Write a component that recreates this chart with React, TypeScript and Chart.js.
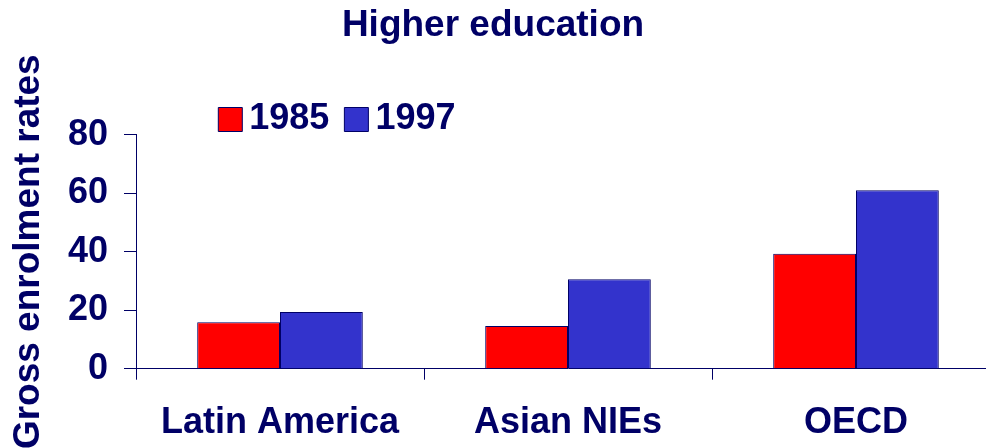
import React, { useEffect, useRef } from 'react';
import { Chart, registerables } from 'chart.js';

Chart.register(...registerables);

const categories = ['Latin America', 'Asian NIEs', 'OECD'];
const seriesLabels = ['1985', '1997'];
const values1985 = [15.9, 14.6, 39.3];
const values1997 = [19.4, 30.6, 61.0];
const yMin = 0;
const yMax = 80;
const yStep = 20;
const chartTitle = 'Higher education';
const yAxisTitle = 'Gross enrolment rates';

const NAVY = '#000066';
const RED = '#FF0000';
const BLUE = '#3333CC';
const FAMILY = "'Liberation Sans', Arial, sans-serif";

const placementPlugin = {
  id: 'placementPlugin',
  afterLayout(chart: any) {
    const t = chart.titleBlock;
    if (t) {
      t.left = 0;
      t.right = 986;
      t.width = 986;
    }
    const l = chart.legend;
    if (l) {
      const w = l.width;
      l.left = 203.3;
      l.right = 203.3 + w;
    }
  },
};

export default function App() {
  const ref = useRef<HTMLCanvasElement | null>(null);

  useEffect(() => {
    if (!ref.current) return;
    const chart = new Chart(ref.current, {
      type: 'bar',
      data: {
        labels: categories,
        datasets: [
          {
            label: seriesLabels[0],
            data: values1985,
            backgroundColor: RED,
            borderColor: NAVY,
            borderWidth: 1,
            categoryPercentage: 0.575,
            barPercentage: 1,
          },
          {
            label: seriesLabels[1],
            data: values1997,
            backgroundColor: BLUE,
            borderColor: NAVY,
            borderWidth: 1,
            categoryPercentage: 0.575,
            barPercentage: 1,
          },
        ],
      },
      options: {
        responsive: false,
        animation: false,
        layout: { padding: 0 },
        plugins: {
          title: {
            display: true,
            text: chartTitle,
            color: NAVY,
            font: { family: FAMILY, size: 37, weight: 'bold' },
            padding: { top: 3.3, bottom: 27.8 },
          },
          legend: {
            display: true,
            position: 'top',
            align: 'start',
            maxHeight: 59.2,
            labels: {
              usePointStyle: true,
              pointStyle: 'rect',
              boxWidth: 2,
              boxHeight: 24,
              padding: 26,
              color: NAVY,
              font: { family: FAMILY, size: 36, weight: 'bold' },
            },
          },
          tooltip: { enabled: false },
        },
        scales: {
          x: {
            grid: {
              display: true,
              drawOnChartArea: false,
              drawTicks: true,
              tickLength: 11,
              color: NAVY,
              offset: true,
            },
            border: { display: true, color: NAVY, width: 1 },
            ticks: {
              color: NAVY,
              padding: 22.2,
              font: { family: FAMILY, size: 36, weight: 'bold' },
              maxRotation: 0,
              autoSkip: false,
            },
            afterFit: (scale: any) => {
              scale.height = 79.3;
            },
          },
          y: {
            min: yMin,
            max: yMax,
            grid: {
              display: true,
              drawOnChartArea: false,
              drawTicks: true,
              tickLength: 12,
              color: NAVY,
            },
            border: { display: true, color: NAVY, width: 1 },
            ticks: {
              stepSize: yStep,
              color: NAVY,
              padding: 16,
              font: { family: FAMILY, size: 36, weight: 'bold' },
            },
            title: {
              display: true,
              text: yAxisTitle,
              color: NAVY,
              font: { family: FAMILY, size: 37, weight: 'bold' },
              padding: { top: 7, bottom: 0 },
            },
            afterFit: (scale: any) => {
              scale.width = 136;
            },
          },
        },
      },
      plugins: [placementPlugin],
    });
    return () => chart.destroy();
  }, []);

  return (
    <div
      style={{
        position: 'fixed',
        left: 0,
        top: 0,
        width: 986,
        height: 448,
        background: '#ffffff',
        overflow: 'hidden',
      }}
    >
      <canvas ref={ref} width={1000} height={448} style={{ display: 'block' }} />
    </div>
  );
}
